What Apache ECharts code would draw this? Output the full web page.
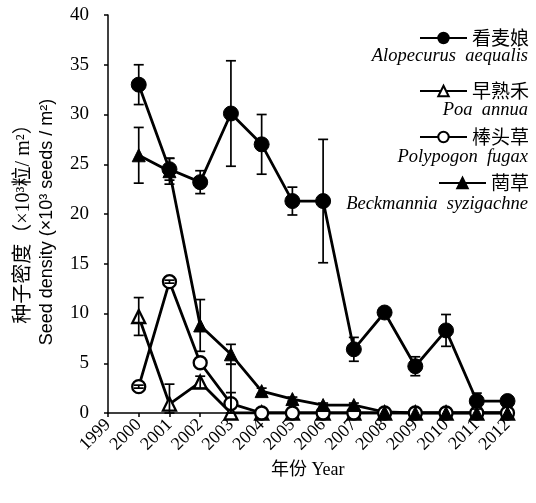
<!DOCTYPE html>
<html>
<head>
<meta charset="utf-8">
<script src="https://cdn.jsdelivr.net/npm/echarts@6/dist/echarts.min.js"></script>
<style>html,body{margin:0;padding:0;background:#fff}#c{width:536px;height:503px}</style>
</head>
<body>
<div id="c"></div>
<script>
var years = [2000, 2001, 2002, 2003, 2004, 2005, 2006, 2007, 2008, 2009, 2010, 2011, 2012];
var xTicks = [1999, 2000, 2001, 2002, 2003, 2004, 2005, 2006, 2007, 2008, 2009, 2010, 2011, 2012];
var yTicks = [0, 5, 10, 15, 20, 25, 30, 35, 40];

var namesZh = ['看麦娘', '早熟禾', '棒头草', '菵草'];
var namesLa = ['Alopecurus  aequalis', 'Poa  annua', 'Polypogon  fugax', 'Beckmannia  syzigachne'];

var alopecurus    = [33.0, 24.5, 23.2, 30.1, 27.0, 21.3, 21.3, 6.4, 10.1, 4.7, 8.3, 1.2, 1.2];
var alopecurusErr = [2.0, 1.1, 1.15, 5.3, 3.0, 1.4, 6.2, 1.2, 0, 0.95, 1.6, 0.8, 0];
var poa           = [9.7, 0.9, 3.1, 0, 0, 0, 0, 0, 0, 0, 0, 0, 0];
var poaErr        = [1.9, 2.0, 0.6, 4.9, 0, 0, 0, 0, 0, 0, 0, 0, 0];
var polypogon     = [2.65, 13.2, 5.05, 0.95, 0, 0, 0, 0, 0, 0, 0, 0, 0];
var polypogonErr  = [0.15, 0.15, 0, 1.1, 0, 0, 0, 0, 0, 0, 0, 0, 0];
var beckmannia    = [25.9, 24.3, 8.8, 5.9, 2.2, 1.4, 0.8, 0.8, 0.1, 0, 0, 0, 0];
var beckmanniaErr = [2.8, 1.3, 2.6, 1.0, 0.3, 0.2, 0.2, 0.2, 0, 0, 0, 0, 0];

var serif = '"Liberation Serif", "Times New Roman", "Noto Sans CJK SC", serif';
var sans = '"Liberation Sans", Arial, sans-serif';

function pairs(vals) { return years.map(function (y, i) { return [y, vals[i]]; }); }
function errData(vals, errs) {
  var out = [];
  years.forEach(function (y, i) {
    if (errs[i] > 0) out.push([y, Math.max(0, vals[i] - errs[i]), vals[i] + errs[i]]);
  });
  return out;
}
function errSeries(vals, errs) {
  return {
    type: 'custom', z: 5, silent: true,
    data: errData(vals, errs),
    renderItem: function (params, api) {
      var x = api.value(0), lo = api.value(1), hi = api.value(2);
      var pHi = api.coord([x, hi]), pLo = api.coord([x, lo]);
      var w = 5;
      var st = { stroke: '#000', lineWidth: 1.7 };
      return { type: 'group', children: [
        { type: 'line', shape: { x1: pHi[0], y1: pHi[1], x2: pLo[0], y2: pLo[1] }, style: st },
        { type: 'line', shape: { x1: pHi[0] - w, y1: pHi[1], x2: pHi[0] + w, y2: pHi[1] }, style: st },
        { type: 'line', shape: { x1: pLo[0] - w, y1: pLo[1], x2: pLo[0] + w, y2: pLo[1] }, style: st }
      ]};
    }
  };
}
function lineSeries(name, vals, symbol, size, filled) {
  return {
    type: 'line', name: name, data: pairs(vals), z: 3,
    symbol: symbol, symbolSize: size, showAllSymbol: true,
    lineStyle: { color: '#000', width: 2.8 },
    itemStyle: filled ? { color: '#000', borderColor: '#000', borderWidth: 1 }
                      : { color: '#fff', borderColor: '#000', borderWidth: 2.3 },
    emphasis: { disabled: true }, animation: false
  };
}

var legendCenters = [38, 91, 137, 183];
var latinCenters = [58, 112, 159, 206];

var legends = namesZh.map(function (n, i) {
  return {
    data: [n], right: 7, top: legendCenters[i] - 10, padding: 0,
    itemWidth: 47, itemHeight: 13, selectedMode: false,
    textStyle: { fontFamily: '"Noto Sans CJK SC", sans-serif', fontSize: 19, color: '#000', lineHeight: 20 }
  };
});

var graphics = namesLa.map(function (n, i) {
  return {
    type: 'text', right: 8, top: latinCenters[i] - 11,
    style: { text: n, font: 'italic 18.5px ' + serif, fill: '#000' }
  };
});
graphics.push({
  type: 'text', x: 24, y: 219, rotation: Math.PI / 2,
  style: { text: '种子密度（×10³粒/ m²）', font: '20px ' + serif, fill: '#000', align: 'center', verticalAlign: 'middle' }
});
graphics.push({
  type: 'text', x: 47, y: 222, rotation: Math.PI / 2,
  style: { text: 'Seed density (×10³ seeds / m²)', font: '18px ' + sans, fill: '#000', align: 'center', verticalAlign: 'middle' }
});

var chart = echarts.init(document.getElementById('c'), null, { renderer: 'canvas' });
chart.setOption({
  animation: false,
  backgroundColor: '#fff',
  grid: { left: 108, right: 28.5, top: 15, bottom: 90, containLabel: false },
  legend: legends,
  graphic: graphics,
  xAxis: {
    type: 'value', min: xTicks[0], max: xTicks[xTicks.length - 1], interval: 1,
    name: '年份 Year', nameLocation: 'middle', nameGap: 45,
    nameTextStyle: { fontFamily: serif, fontSize: 18, color: '#000' },
    axisLine: { show: true, onZero: false, lineStyle: { color: '#000', width: 1.5 } },
    axisTick: { show: true, inside: false, length: 4, lineStyle: { color: '#000', width: 1.5 } },
    axisLabel: { rotate: 45, fontFamily: serif, fontSize: 18, color: '#000', margin: 9,
      formatter: function (v) { return String(v); } },
    splitLine: { show: false }
  },
  yAxis: {
    type: 'value', min: yTicks[0], max: yTicks[yTicks.length - 1], interval: 5,
    axisLine: { show: true, lineStyle: { color: '#000', width: 1.5 } },
    axisTick: { show: true, inside: false, length: 4, lineStyle: { color: '#000', width: 1.5 } },
    axisLabel: { fontFamily: serif, fontSize: 19, color: '#000', margin: 19 },
    splitLine: { show: false }
  },
  series: [
    lineSeries(namesZh[0], alopecurus, 'circle', 15, true),
    lineSeries(namesZh[1], poa, 'triangle', 13, false),
    lineSeries(namesZh[2], polypogon, 'circle', 13, false),
    lineSeries(namesZh[3], beckmannia, 'triangle', 13, true),
    errSeries(alopecurus, alopecurusErr),
    errSeries(poa, poaErr),
    errSeries(polypogon, polypogonErr),
    errSeries(beckmannia, beckmanniaErr)
  ]
});
</script>
</body>
</html>
